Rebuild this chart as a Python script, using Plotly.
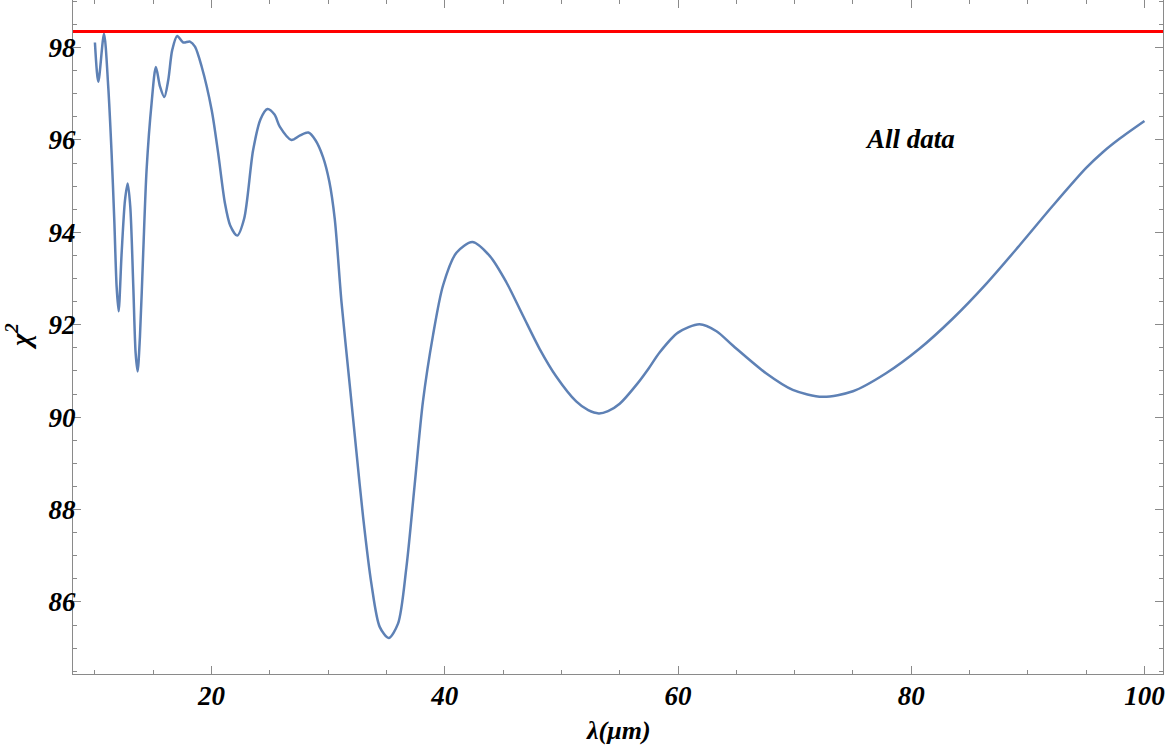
import plotly.graph_objects as go

# chi^2 scan vs wavelength
lam = [10.0, 10.29, 10.78, 11.14, 11.43, 11.66, 11.86, 12.03, 12.29, 12.58,
       12.81, 13.03, 13.29, 13.49, 13.66, 13.86, 14.14, 14.43, 14.86, 15.23,
       15.58, 15.95, 16.29, 16.63, 17.06, 17.57, 18.15, 18.58, 19.15, 20.01,
       20.57, 21.15, 21.6, 22.2, 22.8, 23.56, 24.2, 24.8, 25.4, 25.85,
       26.85, 27.6, 28.3, 28.9, 29.56, 30.1, 30.57, 31.14, 31.85, 32.42,
       33.0, 33.71, 34.42, 35.19, 35.99, 36.71, 37.42, 38.13, 38.99, 39.85,
       41.0, 42.37, 43.85, 45.28, 46.7, 48.13, 49.56, 51.27, 52.3, 53.21,
       54.0, 55.0, 56.5, 57.5, 58.42, 60.0, 61.84, 63.3, 64.7, 67.55,
       69.84, 72.4, 75.0, 77.84, 80.7, 83.55, 86.41, 89.26, 92.12, 94.98,
       96.4, 97.83, 100.0]
chi2 = [98.11, 97.26, 98.30, 97.16, 95.71, 94.27, 92.83, 92.29, 93.55, 94.70,
        95.06, 94.56, 92.83, 91.39, 90.99, 91.74, 93.55, 95.35, 96.80, 97.58,
        97.16, 96.93, 97.30, 97.95, 98.25, 98.11, 98.13, 98.02, 97.59, 96.65,
        95.71, 94.63, 94.15, 93.93, 94.30, 95.77, 96.45, 96.67, 96.55, 96.29,
        96.00, 96.10, 96.16, 96.00, 95.63, 95.10, 94.28, 92.50, 90.70, 89.26,
        87.83, 86.39, 85.46, 85.22, 85.53, 86.75, 88.54, 90.34, 91.77, 92.85,
        93.56, 93.79, 93.49, 92.92, 92.20, 91.48, 90.88, 90.34, 90.15, 90.08,
        90.13, 90.29, 90.72, 91.06, 91.40, 91.83, 92.01, 91.86, 91.55, 90.95,
        90.59, 90.44, 90.56, 90.95, 91.48, 92.13, 92.88, 93.71, 94.57, 95.39,
        95.73, 96.02, 96.41]
limit = 98.35
x_span = [8.12, 101.59]

serif = "Liberation Serif"
fnt = dict(family=serif, size=27, color="black", weight="bold", style="italic")

fig = go.Figure()
fig.add_trace(go.Scatter(x=lam, y=chi2, mode="lines",
                         line=dict(color="#5E81B5", width=2.5, shape="spline", smoothing=0.8)))
fig.add_trace(go.Scatter(x=x_span, y=[limit, limit], mode="lines",
                         line=dict(color="#FF0000", width=3)))

axis = dict(showline=True, linecolor="#8a8a8a", linewidth=1.2, mirror="allticks",
            ticks="inside", ticklen=8, tickcolor="#8a8a8a", tickwidth=1,
            showgrid=False, zeroline=False, tickfont=fnt, automargin=False,
            ticklabeloverflow="allow")
fig.update_xaxes(**axis, range=x_span, tickvals=[20, 40, 60, 80, 100], ticklabelstandoff=-3,
                 minor=dict(tickvals=[10, 15, 25, 30, 35, 45, 50, 55, 65, 70, 75, 85, 90, 95],
                            ticks="inside", ticklen=4, tickcolor="#8a8a8a"))
fig.update_yaxes(**axis, range=[84.44, 99.03], tickvals=[86, 88, 90, 92, 94, 96, 98], ticklabelstandoff=-9,
                 minor=dict(dtick=0.5, ticks="inside", ticklen=4, tickcolor="#8a8a8a"))

fig.add_annotation(x=79.87, y=96.02, text="All data", showarrow=False,
                   font=dict(family=serif, size=27, color="black", weight="bold", style="italic"))
fig.add_annotation(x=0.5, y=0, xref="paper", yref="paper", yshift=-56, text="λ(μm)",
                   showarrow=False, font=dict(family=serif, size=26, color="black", weight="bold", style="italic"),
                   yanchor="middle")
fig.add_annotation(x=0, y=0.5, xref="paper", yref="paper", xshift=-55, yshift=0, text="χ<sup>2</sup>",
                   textangle=-90, showarrow=False,
                   font=dict(family=serif, size=28, color="black", weight="bold", style="italic"),
                   xanchor="center", yanchor="middle")

fig.update_layout(width=1166, height=752, showlegend=False,
                  plot_bgcolor="white", paper_bgcolor="white",
                  margin=dict(l=73, r=3, t=0, b=78))

# drop the browser's default 8px body margin so the figure fills the window exactly
fig.write_html("out.html", config={"displayModeBar": False},
               post_script="document.body.style.margin='0px';")
